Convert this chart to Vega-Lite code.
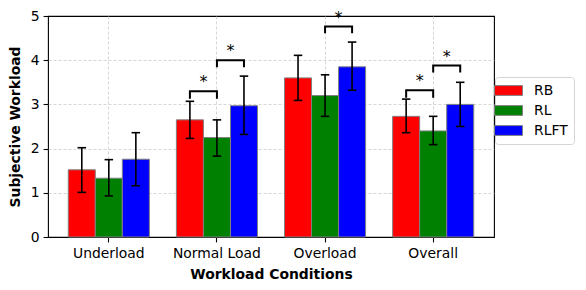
{
  "$schema": "https://vega.github.io/schema/vega-lite/v6.json",
  "width": 446,
  "height": 221,
  "autosize": {"type": "none"},
  "padding": {"left": 48, "top": 16, "right": 92, "bottom": 53},
  "config": {
    "font": "DejaVu Sans",
    "view": {"stroke": "black", "strokeWidth": 1.1},
    "axis": {
      "labelFont": "DejaVu Sans", "titleFont": "DejaVu Sans",
      "labelFontSize": 13.9, "titleFontSize": 13.9, "titleFontWeight": "bold",
      "labelColor": "black", "titleColor": "black", "tickColor": "black",
      "tickSize": 4.9, "tickWidth": 1.1, "domain": false,
      "grid": true, "gridDash": [3, 2], "gridWidth": 0.8
    },
    "legend": {"labelFont": "DejaVu Sans", "labelFontSize": 13.9, "labelColor": "black"}
  },
  "datasets": {
    "bars": [
      {"cond": "Underload", "series": "RB", "mean": 1.52, "lo": 1.01, "hi": 2.02},
      {"cond": "Underload", "series": "RL", "mean": 1.33, "lo": 0.93, "hi": 1.75},
      {"cond": "Underload", "series": "RLFT", "mean": 1.76, "lo": 1.16, "hi": 2.36},
      {"cond": "Normal Load", "series": "RB", "mean": 2.65, "lo": 2.23, "hi": 3.07},
      {"cond": "Normal Load", "series": "RL", "mean": 2.25, "lo": 1.83, "hi": 2.65},
      {"cond": "Normal Load", "series": "RLFT", "mean": 2.97, "lo": 2.32, "hi": 3.64},
      {"cond": "Overload", "series": "RB", "mean": 3.60, "lo": 3.09, "hi": 4.11},
      {"cond": "Overload", "series": "RL", "mean": 3.20, "lo": 2.73, "hi": 3.67},
      {"cond": "Overload", "series": "RLFT", "mean": 3.85, "lo": 3.32, "hi": 4.41},
      {"cond": "Overall", "series": "RB", "mean": 2.73, "lo": 2.36, "hi": 3.12},
      {"cond": "Overall", "series": "RL", "mean": 2.40, "lo": 2.09, "hi": 2.73},
      {"cond": "Overall", "series": "RLFT", "mean": 3.00, "lo": 2.50, "hi": 3.50}
    ],
    "brackets": [
      {"id": "NL1", "cond": "Normal Load", "series": "RB", "y": 3.13, "ord": 1},
      {"id": "NL1", "cond": "Normal Load", "series": "RB", "y": 3.30, "ord": 2},
      {"id": "NL1", "cond": "Normal Load", "series": "RL", "y": 3.30, "ord": 3},
      {"id": "NL1", "cond": "Normal Load", "series": "RL", "y": 3.13, "ord": 4},
      {"id": "NL2", "cond": "Normal Load", "series": "RL", "y": 3.84, "ord": 1},
      {"id": "NL2", "cond": "Normal Load", "series": "RL", "y": 4.00, "ord": 2},
      {"id": "NL2", "cond": "Normal Load", "series": "RLFT", "y": 4.00, "ord": 3},
      {"id": "NL2", "cond": "Normal Load", "series": "RLFT", "y": 3.84, "ord": 4},
      {"id": "OL2", "cond": "Overload", "series": "RL", "y": 4.61, "ord": 1},
      {"id": "OL2", "cond": "Overload", "series": "RL", "y": 4.76, "ord": 2},
      {"id": "OL2", "cond": "Overload", "series": "RLFT", "y": 4.76, "ord": 3},
      {"id": "OL2", "cond": "Overload", "series": "RLFT", "y": 4.61, "ord": 4},
      {"id": "OA1", "cond": "Overall", "series": "RB", "y": 3.15, "ord": 1},
      {"id": "OA1", "cond": "Overall", "series": "RB", "y": 3.32, "ord": 2},
      {"id": "OA1", "cond": "Overall", "series": "RL", "y": 3.32, "ord": 3},
      {"id": "OA1", "cond": "Overall", "series": "RL", "y": 3.15, "ord": 4},
      {"id": "OA2", "cond": "Overall", "series": "RL", "y": 3.72, "ord": 1},
      {"id": "OA2", "cond": "Overall", "series": "RL", "y": 3.88, "ord": 2},
      {"id": "OA2", "cond": "Overall", "series": "RLFT", "y": 3.88, "ord": 3},
      {"id": "OA2", "cond": "Overall", "series": "RLFT", "y": 3.72, "ord": 4}
    ],
    "stars": [
      {"cond": "Normal Load", "series": "RB", "y": 3.30, "label": "*"},
      {"cond": "Normal Load", "series": "RL", "y": 4.00, "label": "*"},
      {"cond": "Overload", "series": "RL", "y": 4.76, "label": "*"},
      {"cond": "Overall", "series": "RB", "y": 3.32, "label": "*"},
      {"cond": "Overall", "series": "RL", "y": 3.88, "label": "*"}
    ]
  },
  "encoding": {
    "x": {
      "field": "cond", "type": "nominal",
      "scale": {"type": "band", "domain": ["Underload", "Normal Load", "Overload", "Overall"], "paddingInner": 0.25, "paddingOuter": 0.1875},
      "axis": {"title": "Workload Conditions", "labelAngle": 0, "labelPadding": 5, "titlePadding": 7, "bandPosition": 0.5, "gridColor": "#cccccc"}
    },
    "xOffset": {
      "field": "series", "type": "nominal",
      "scale": {"domain": ["RB", "RL", "RLFT"], "paddingInner": 0, "paddingOuter": 0}
    }
  },
  "layer": [
    {
      "data": {"name": "bars"},
      "mark": {"type": "bar", "stroke": "grey", "strokeWidth": 1},
      "encoding": {
        "y": {
          "field": "mean", "type": "quantitative",
          "scale": {"domain": [0, 5], "nice": false, "zero": true},
          "axis": {
            "title": "Subjective Workload", "values": [0, 1, 2, 3, 4, 5], "labelPadding": 4, "titlePadding": 8,
            "gridColor": {"condition": {"test": "datum.value === 0 || datum.value === 5", "value": "transparent"}, "value": "#cccccc"}
          }
        },
        "color": {
          "field": "series", "type": "nominal",
          "scale": {"domain": ["RB", "RL", "RLFT"], "range": ["#ff0000", "#008000", "#0000ff"]},
          "legend": {
            "title": null, "orient": "none", "legendX": 447, "legendY": 61,
            "symbolType": "M-2,-0.7H2V0.7H-2Z", "symbolSize": 196,
            "symbolStrokeColor": "grey", "symbolStrokeWidth": 1, "symbolOpacity": 1,
            "labelOffset": 18, "rowPadding": 5,
            "padding": 6, "strokeColor": "#d5d5d5", "fillColor": "white", "cornerRadius": 3
          }
        }
      }
    },
    {
      "data": {"name": "bars"},
      "mark": {"type": "rule", "color": "black", "strokeWidth": 1.6},
      "encoding": {
        "y": {"field": "lo", "type": "quantitative"},
        "y2": {"field": "hi"}
      }
    },
    {
      "data": {"name": "bars"},
      "mark": {"type": "tick", "color": "black", "thickness": 1.6, "size": 8.5, "opacity": 1},
      "encoding": {"y": {"field": "lo", "type": "quantitative"}}
    },
    {
      "data": {"name": "bars"},
      "mark": {"type": "tick", "color": "black", "thickness": 1.6, "size": 8.5, "opacity": 1},
      "encoding": {"y": {"field": "hi", "type": "quantitative"}}
    },
    {
      "data": {"name": "brackets"},
      "mark": {"type": "line", "color": "black", "strokeWidth": 2, "strokeJoin": "miter"},
      "encoding": {
        "y": {"field": "y", "type": "quantitative"},
        "detail": {"field": "id"},
        "order": {"field": "ord", "type": "quantitative"}
      }
    },
    {
      "data": {"name": "stars"},
      "mark": {"type": "text", "fontSize": 16, "dx": 13.5, "dy": -4, "baseline": "alphabetic", "align": "center", "color": "black"},
      "encoding": {
        "y": {"field": "y", "type": "quantitative"},
        "text": {"field": "label"}
      }
    }
  ]
}
